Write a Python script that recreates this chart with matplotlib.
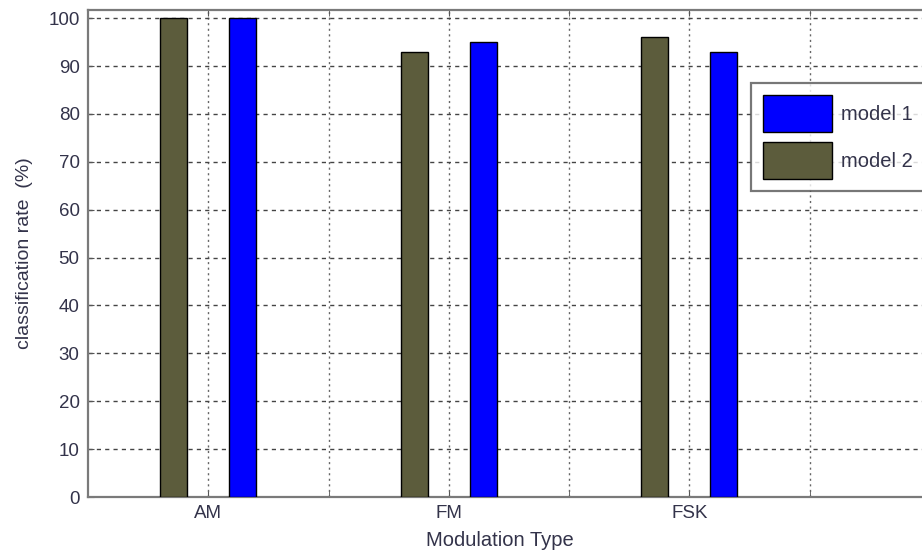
import matplotlib
matplotlib.use("Agg")
import matplotlib.pyplot as plt
import numpy as np

categories = ["AM", "FM", "FSK"]
model1 = [100, 95, 93]
model2 = [100, 93, 96]
yticks = [0, 10, 20, 30, 40, 50, 60, 70, 80, 90, 100]

plt.rcParams['font.family'] = ['Liberation Sans', 'DejaVu Sans']
FS = 13.5
TXT = '#33334a'

W, H = 922, 552
fig = plt.figure(figsize=(W / 100, H / 100), dpi=100)
left, right, top, bottom = 88, 922, 10, 497
ax = fig.add_axes([left / W, 1 - bottom / H, (right - left) / W, (bottom - top) / H])

x = np.arange(1, len(categories) + 1)
off = 0.144
bw = 0.113
b2 = ax.bar(x - off, model2, bw, color='#5c5c3c', edgecolor='black', linewidth=1.0, label='model 2', zorder=3)
b1 = ax.bar(x + off, model1, bw, color='#0000ff', edgecolor='black', linewidth=1.0, label='model 1', zorder=3)

ax.set_xlim(0.5, 0.5 + (right - left) / 240.5)
ax.set_ylim(0, 101.7)
ax.set_yticks(yticks)
ax.set_yticklabels([str(v) for v in yticks])
ax.set_xticks(x)
ax.set_xticklabels(categories)
ax.set_xticks(np.array([1.5, 2.5, 3.5]), minor=True)

ax.set_axisbelow(True)
ax.grid(axis='y', which='major', color='#444444', linestyle=(0, (3, 3)), linewidth=1.0, zorder=0)
ax.grid(axis='x', which='both', color='#666666', linestyle=(0, (1.5, 2.5)), linewidth=1.0, zorder=0)

for s in ['left', 'bottom', 'top']:
    ax.spines[s].set_color('#7a7a7a')
    ax.spines[s].set_linewidth(1.6)
ax.spines['right'].set_visible(False)

ax.tick_params(axis='both', which='both', direction='in', length=4, color='#555555',
               labelsize=FS, labelcolor=TXT, top=True, right=False)
ax.tick_params(axis='x', which='major', pad=6)
ax.tick_params(axis='y', which='major', pad=6)

ax.set_xlabel('Modulation Type', fontsize=14.5, color=TXT)
ax.xaxis.set_label_coords((500 - left) / (right - left), -(540 - bottom) / (bottom - top), transform=ax.transAxes)
ax.xaxis.label.set_va('center')
ax.set_ylabel('classification rate  (%)', fontsize=14, color=TXT)
ax.yaxis.set_label_coords(-(88 - 24) / (right - left), 0.5, transform=ax.transAxes)
ax.yaxis.label.set_va('center')

leg = ax.legend(handles=[b1, b2], labels=['model 1', 'model 2'], loc='upper left',
                bbox_to_anchor=(751 / W, 1 - 83 / H), bbox_transform=fig.transFigure,
                fontsize=14.5, frameon=True, fancybox=False, borderaxespad=0,
                handlelength=3.4, handleheight=2.45, handletextpad=0.45,
                labelspacing=0.5, borderpad=0.6)
leg.get_frame().set_edgecolor('#555555')
leg.get_frame().set_linewidth(1.6)
for t in leg.get_texts():
    t.set_color(TXT)

fig.savefig('out.png', dpi=100)
